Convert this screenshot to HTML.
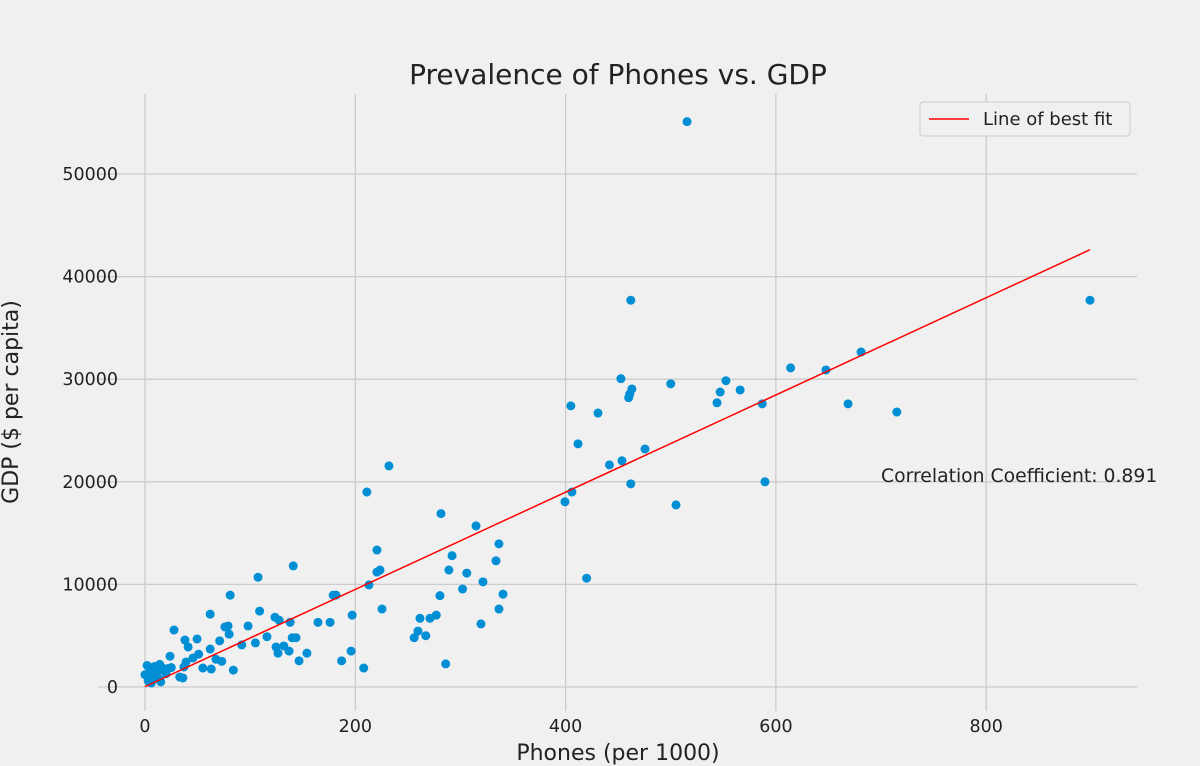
<!DOCTYPE html>
<html><head><meta charset="utf-8"><style>
body{margin:0;background:#f0f0f0;}
svg{display:block;font-family:"DejaVu Sans","Liberation Sans",sans-serif;}
</style></head><body>
<svg id="chart" width="1200" height="766">
<rect width="1200" height="766" fill="#f0f0f0"/>
<g id="grid"></g><g id="pts"></g><g id="fit"></g><g id="ticks"></g>
<text x="618" y="84" text-anchor="middle" font-size="28" fill="#222">Prevalence of Phones vs. GDP</text>
<text x="618" y="760" text-anchor="middle" font-size="22" fill="#222">Phones (per 1000)</text>
<text transform="translate(18,402) rotate(-90)" text-anchor="middle" font-size="22" fill="#222">GDP ($ per capita)</text>
<text x="881" y="482" font-size="18.8" fill="#222">Correlation Coefficient: 0.891</text>
<g>
<rect x="920" y="102" width="210" height="34" fill="#f0f0f0" stroke="#cccccc" rx="3"/>
<line x1="929" y1="119" x2="969" y2="119" stroke="#ff0000" stroke-width="1.5"/>
<text x="983" y="125" font-size="18" fill="#222">Line of best fit</text>
</g>
</svg>
<script>
const phones=[0,2,3,5,6,8,10,12,14,15,18,20,22,25,4,7,9,11,13,16,23.8,27.6,33,36,37,38,41,39,45.6,49.5,51,55,62,62,63,67.5,71,73,76,79,80,81,84,92,98,105,107.5,109,116,123.6,124.6,126.5,127.6,132,137,138,140,141,143.6,146.5,154,164.5,176,179,181.6,187,196,197,208,211,213,220.6,220.6,223.5,225.4,232,256,259.6,261.5,267,271,277,280.5,281.5,286,289,292,302,306,314.8,319.5,321.4,333.8,336.6,336.6,340.5,399.4,405,406,411.8,420,430.8,441.7,452.6,453.6,460,461,462,462,463,475.5,500,505,515.5,544,547,552.5,566,587,589.6,614,647.6,668.6,681,715,898.7];
const gdp=[1200,2100,600,1800,400,1500,1000,1700,2200,500,1600,1300,1800,1900,1400,900,2000,1200,800,1900,3000,5550,975,880,1950,4580,3900,2440,2830,4680,3200,1850,7100,3700,1750,2700,4500,2500,5850,5950,5150,8950,1650,4100,5950,4300,10700,7400,4900,6800,3900,3300,6500,4000,3500,6300,4800,11800,4800,2550,3300,6300,6300,8950,8950,2550,3500,7000,1850,19000,9950,13350,11200,11400,7600,21550,4800,5450,6700,5000,6700,7000,8900,16900,2250,11400,12800,9550,11100,15700,6150,10250,12300,7600,13950,9050,18050,27400,19000,23700,10600,26700,21650,30050,22050,28200,28550,37700,19800,29050,23200,29550,17750,55100,27700,28750,29850,28950,27600,20000,31100,30900,27600,32650,26800,37700];
const xTicks=[0,200,400,600,800];
const yTicks=[0,10000,20000,30000,40000,50000];
const NS="http://www.w3.org/2000/svg";
const X=v=>145+v*1.0515, Y=v=>687-v*0.01026;
function mk(t,a,p){const e=document.createElementNS(NS,t);for(const k in a)e.setAttribute(k,a[k]);p.appendChild(e);return e;}
const grid=document.getElementById('grid'),tk=document.getElementById('ticks');
xTicks.forEach(v=>{const l=mk('line',{x1:X(v),x2:X(v),y1:94,y2:711,stroke:'#cbcbcb','stroke-width':1.3},grid);


const t=mk('text',{x:X(v),y:732,'text-anchor':'middle','font-size':17.5,fill:'#222'},tk);t.textContent=v;

});
yTicks.forEach(v=>{const l=mk('line',{x1:98,x2:1137,y1:Y(v),y2:Y(v),stroke:'#cbcbcb','stroke-width':1.3},grid);


const t=mk('text',{x:118,y:Y(v)+6,'text-anchor':'end','font-size':17.5,fill:'#222'},tk);t.textContent=v;

});
const pg=document.getElementById('pts');
phones.forEach((p,i)=>{const c=mk('circle',{cx:X(p),cy:Y(gdp[i]),r:4.5,fill:'#008fd5'},pg);

});
const n=phones.length,mx=phones.reduce((a,b)=>a+b)/n,my=gdp.reduce((a,b)=>a+b)/n;
let sxy=0,sxx=0;phones.forEach((p,i)=>{sxy+=(p-mx)*(gdp[i]-my);sxx+=(p-mx)**2;});
const m=sxy/sxx,b=my-m*mx,x0=Math.min(...phones),x1=Math.max(...phones);
const fl=mk('line',{x1:X(x0),y1:Y(m*x0+b),x2:X(x1),y2:Y(m*x1+b),stroke:'#ff0000','stroke-width':1.5},document.getElementById('fit'));


</script>
</body></html>
